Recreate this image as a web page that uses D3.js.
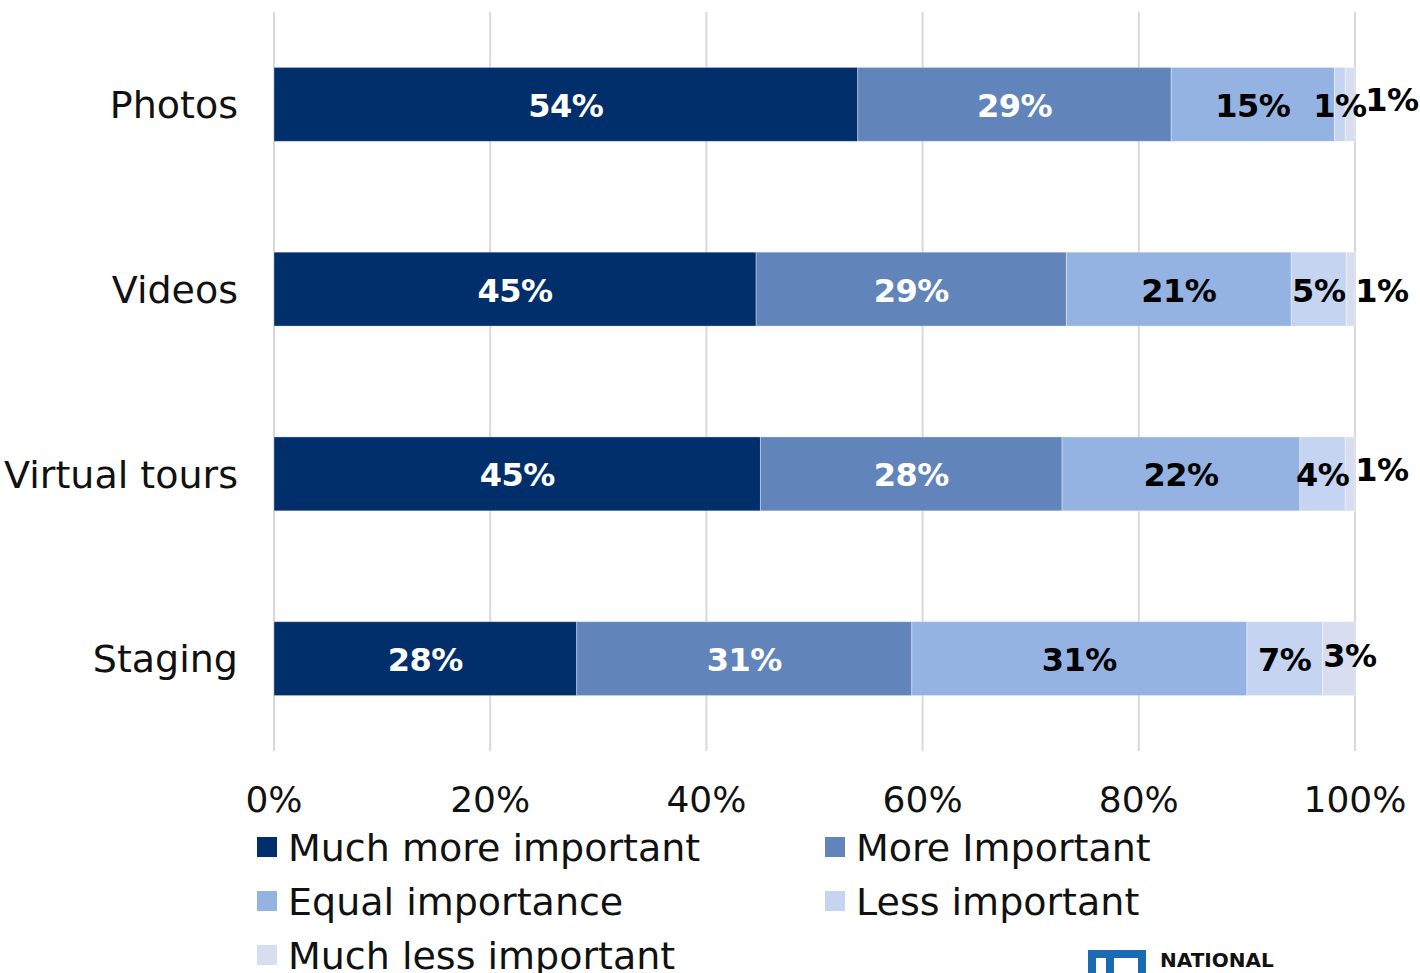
<!DOCTYPE html>
<html>
<head>
<meta charset="utf-8">
<script src="https://cdn.jsdelivr.net/npm/d3@7"></script>
<style>
  html, body { margin: 0; padding: 0; background: #fff; }
  svg { display: block; }
  text { font-family: "DejaVu Sans", sans-serif; }
</style>
</head>
<body>
<svg id="chart" width="1420" height="973"></svg>
<script>
// ---- data ----
const categories = ["Photos", "Videos", "Virtual tours", "Staging"];
const seriesNames = ["Much more important", "More Important", "Equal importance", "Less important", "Much less important"];
const muchMore  = [54.0, 44.6, 45.0, 28.0];
const more      = [29.0, 28.7, 27.9, 31.0];
const equal     = [15.1, 20.8, 22.0, 31.0];
const less      = [1.0, 5.1, 4.2, 7.0];
const muchLess  = [0.9, 0.8, 0.9, 3.0];
const tickValues = [0, 20, 40, 60, 80, 100];
const tickLabels = ["0%", "20%", "40%", "60%", "80%", "100%"];

// ---- styles / layout ----
const colors = ["#002F6C", "#6185BA", "#94B3E3", "#C5D4F1", "#D8DDEF"];
const labelColors = ["#fff", "#fff", "#000", "#000", "#000"];
const lastLabelDx = [37, 27, 27, -5];
const lastLabelDy = [-5, 1, -4, -3];

const seriesValues = [muchMore, more, equal, less, muchLess];
const rows = categories.map((c, i) => {
  const r = { cat: c };
  seriesNames.forEach((s, j) => r[s] = seriesValues[j][i]);
  return r;
});
const stack = d3.stack().keys(seriesNames)(rows);

const svg = d3.select("#chart");
const x = d3.scaleLinear().domain([0, 100]).range([274, 1355]);
const y = d3.scaleBand().domain(categories).range([12, 751]).paddingInner(0.6).paddingOuter(0.3);

// grid
svg.append("g").selectAll("line").data(tickValues).join("line")
  .attr("x1", d => x(d)).attr("x2", d => x(d))
  .attr("y1", 12).attr("y2", 751)
  .attr("stroke", "#d9d9d9").attr("stroke-width", 2);

// bars
const layers = svg.append("g").selectAll("g").data(stack).join("g")
  .attr("fill", (d, i) => colors[i]);
layers.selectAll("rect").data(d => d).join("rect")
  .attr("x", d => x(d[0]))
  .attr("width", d => x(d[1]) - x(d[0]))
  .attr("y", d => y(d.data.cat))
  .attr("height", y.bandwidth())
  .attr("stroke", "#ffffff").attr("stroke-opacity", 0.35).attr("stroke-width", 1);

// labels
const fmt = v => d3.format(".0f")(v) + "%";
stack.forEach((layer, si) => {
  const isLast = si === stack.length - 1;
  svg.append("g").selectAll("text").data(layer).join("text")
    .attr("x", (d, i) => isLast ? x(100) + lastLabelDx[i] : (x(d[0]) + x(d[1])) / 2)
    .attr("y", (d, i) => y(d.data.cat) + y.bandwidth() / 2 + (isLast ? lastLabelDy[i] : 1))
    .attr("dy", "0.36em")
    .attr("text-anchor", "middle")
    .attr("font-size", 32)
    .attr("font-weight", "bold")
    .attr("letter-spacing", -0.5)
    .attr("fill", labelColors[si])
    .text(d => fmt(d[1] - d[0]));
});

// category axis labels
svg.append("g").selectAll("text").data(categories).join("text")
  .attr("x", 238)
  .attr("y", d => y(d) + y.bandwidth() / 2)
  .attr("dy", "0.36em")
  .attr("text-anchor", "end")
  .attr("font-size", 38)
  .attr("fill", "#111")
  .text(d => d);

// x axis tick labels
svg.append("g").selectAll("text").data(tickValues).join("text")
  .attr("x", d => x(d))
  .attr("y", 799)
  .attr("dy", "0.36em")
  .attr("text-anchor", "middle")
  .attr("font-size", 36)
  .attr("fill", "#111")
  .text((d, i) => tickLabels[i]);

// legend
const legendPos = [[257, 847], [825, 847], [257, 901], [825, 901], [257, 955]];
const lg = svg.append("g").selectAll("g").data(seriesNames).join("g")
  .attr("transform", (d, i) => `translate(${legendPos[i][0]},${legendPos[i][1]})`);
lg.append("rect").attr("x", 0).attr("y", -10).attr("width", 20).attr("height", 20)
  .attr("fill", (d, i) => colors[i]);
lg.append("text").attr("x", 31).attr("y", 0).attr("dy", "0.36em")
  .attr("font-size", 38).attr("fill", "#111").text(d => d);

// logo (partially cut off)
const logo = svg.append("g");
logo.append("rect").attr("x", 1088).attr("y", 950).attr("width", 58).attr("height", 30).attr("fill", "#1A6AB4");
logo.append("rect").attr("x", 1096).attr("y", 958).attr("width", 42).attr("height", 20).attr("fill", "#fff");
logo.append("rect").attr("x", 1106).attr("y", 958).attr("width", 8).attr("height", 20).attr("fill", "#1A6AB4");
logo.append("text").attr("x", 1160).attr("y", 967).attr("font-size", 20).attr("font-weight", "bold")
  .attr("fill", "#111").text("NATIONAL");
</script>
</body>
</html>
